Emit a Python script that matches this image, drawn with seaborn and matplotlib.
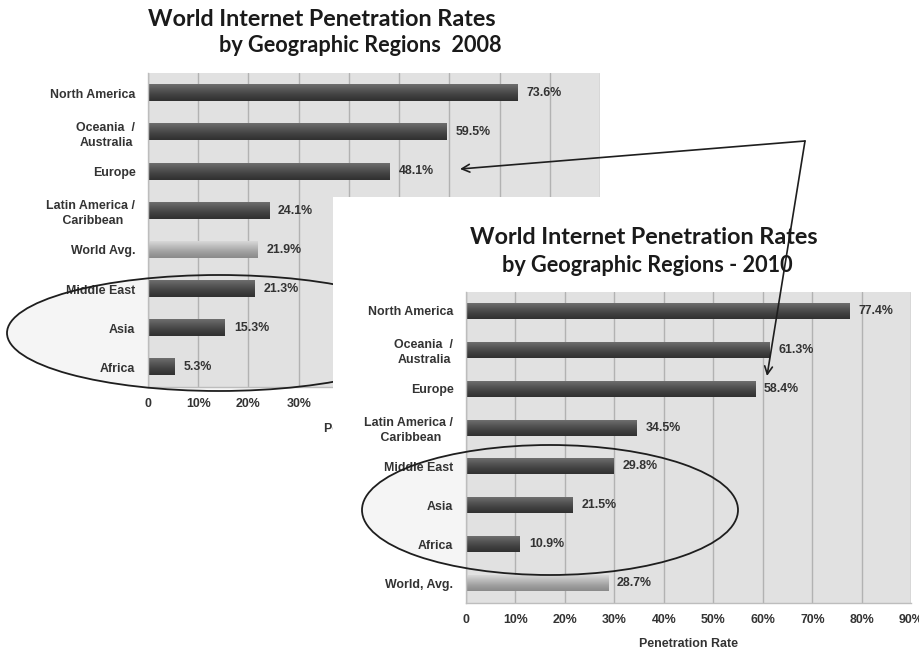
import numpy as np
import pandas as pd
import matplotlib
matplotlib.use("Agg")
import matplotlib.pyplot as plt
from matplotlib import font_manager
from matplotlib.patches import Ellipse, Rectangle
from matplotlib.colors import LinearSegmentedColormap
import seaborn as sns

# ---- data -------------------------------------------------------------
regions_2008 = ["North America", "Oceania  /\nAustralia", "Europe",
                "Latin America /\n Caribbean", "World Avg.", "Middle East",
                "Asia", "Africa"]
rates_2008 = [73.6, 59.5, 48.1, 24.1, 21.9, 21.3, 15.3, 5.3]

regions_2010 = ["North America", "Oceania  /\nAustralia", "Europe",
                "Latin America /\n Caribbean", "Middle East", "Asia",
                "Africa", "World, Avg."]
rates_2010 = [77.4, 61.3, 58.4, 34.5, 29.8, 21.5, 10.9, 28.7]

x_ticks = [0, 10, 20, 30, 40, 50, 60, 70, 80, 90]
x_tick_labels = ["0", "10%", "20%", "30%", "40%", "50%", "60%", "70%", "80%", "90%"]

title_2008 = ("World Internet Penetration Rates", "by Geographic Regions  2008")
title_2010 = ("World Internet Penetration Rates", "by Geographic Regions - 2010")

# ---- style ------------------------------------------------------------
sns.set_theme(style="white")
installed = {f.name for f in font_manager.fontManager.ttflist}
label_font = "Liberation Sans Narrow" if "Liberation Sans Narrow" in installed else "Liberation Sans"
title_font = "Lato" if "Lato" in installed else "DejaVu Sans"
plt.rcParams["font.family"] = [label_font, "DejaVu Sans"]

W, H = 920, 651
DPI = 100
LABEL_SIZE = 8.9
TEXT_COLOR = "#333333"
fig = plt.figure(figsize=(W / DPI, H / DPI), dpi=DPI)
fig.patch.set_facecolor("white")


def px_axes(left, top, right, bottom, **kw):
    return fig.add_axes([left / W, 1 - bottom / H, (right - left) / W, (bottom - top) / H], **kw)


dark_cmap = LinearSegmentedColormap.from_list(
    "dark", ["#6e6e6e", "#555555", "#404040", "#303030"])
light_cmap = LinearSegmentedColormap.from_list(
    "light", ["#d8d8d8", "#bababa", "#9e9e9e", "#8a8a8a"])


def draw_chart(ax, cats, vals, highlight):
    df = pd.DataFrame({"region": cats, "rate": vals})
    sns.barplot(data=df, x="rate", y="region", ax=ax, color="#444444",
                width=0.41, orient="h", saturation=1)
    ax.set_xlim(0, 90)
    ax.set_facecolor("#e1e1e1")
    ax.set_xticks(x_ticks)
    ax.set_xticklabels(x_tick_labels)
    ax.grid(axis="x", color="#b2b2b2", linewidth=1.0)
    ax.set_axisbelow(True)
    for s in ["top", "right"]:
        ax.spines[s].set_visible(False)
    for s in ["left", "bottom"]:
        ax.spines[s].set_color("#bdbdbd")
        ax.spines[s].set_linewidth(1.0)
    ax.tick_params(axis="y", length=0, pad=9, labelsize=LABEL_SIZE, labelcolor=TEXT_COLOR)
    ax.tick_params(axis="x", length=0, pad=8, labelsize=LABEL_SIZE, labelcolor=TEXT_COLOR)
    # boundary tick marks between categories
    ax.set_yticks(np.arange(len(cats) + 1) - 0.5, minor=True)
    ax.tick_params(axis="y", which="minor", length=4, color="#9a9a9a", width=0.8)
    for t in ax.get_yticklabels():
        t.set_fontweight("bold")
        t.set_multialignment("center")
        t.set_linespacing(1.35)
    for t in ax.get_xticklabels():
        t.set_fontweight("bold")
    ax.set_ylabel("")
    ax.set_xlabel("Penetration Rate", fontsize=LABEL_SIZE, fontweight="bold",
                  color=TEXT_COLOR, labelpad=9)

    # shaded bars
    for patch, cat, val in zip(ax.patches, cats, vals):
        x0, y0 = patch.get_x(), patch.get_y()
        w, h = patch.get_width(), patch.get_height()
        cmap = light_cmap if cat == highlight else dark_cmap
        grad = np.linspace(0, 1, 64).reshape(-1, 1)
        ax.imshow(grad, cmap=cmap, aspect="auto",
                  extent=(x0, x0 + w, y0 + h, y0), zorder=2.5,
                  interpolation="bilinear")
        patch.set_edgecolor("none")
        ax.text(val + 1.8, y0 + h / 2, f"{val}%", va="center", ha="left",
                fontsize=LABEL_SIZE, fontweight="bold", color=TEXT_COLOR, zorder=3)
    ax.set_ylim(len(cats) - 0.5, -0.5)


# ---- 2008 chart ---------------------------------------------------------
ax1 = px_axes(148, 73.5, 600, 387)
ax1.set_zorder(1)
draw_chart(ax1, regions_2008, rates_2008, "World Avg.")


# underlay / overlay layers in pixel space
def layer(z):
    a = fig.add_axes([0, 0, 1, 1])
    a.set_xlim(0, W)
    a.set_ylim(H, 0)
    a.axis("off")
    a.patch.set_alpha(0)
    a.set_zorder(z)
    return a


lay_fill1 = layer(0.5)
lay_edge1 = layer(1.5)
lay_fill1.add_patch(Ellipse((219, 333), 424, 116, facecolor="#f5f5f5", edgecolor="none"))
lay_edge1.add_patch(Ellipse((219, 333), 424, 116, facecolor="none",
                            edgecolor="#1e1e1e", linewidth=1.3))

# white panel carrying the 2010 chart
panel = layer(2)
panel.add_patch(Rectangle((333, 197), W - 333, H - 197, facecolor="white",
                          edgecolor="none"))
panel.add_patch(Ellipse((550, 510), 376, 130, facecolor="#f5f5f5", edgecolor="none"))

# ---- 2010 chart ---------------------------------------------------------
ax2 = px_axes(466, 291.5, 911.5, 602.5)
ax2.set_zorder(3)
draw_chart(ax2, regions_2010, rates_2010, "World, Avg.")

top = layer(4)
top.add_patch(Ellipse((550, 510), 376, 130, facecolor="none",
                      edgecolor="#1e1e1e", linewidth=1.3))
vertex = (805, 141)
arrow_kw = dict(arrowstyle="->", color="#1e1e1e", lw=1.2, mutation_scale=14,
                shrinkA=0, shrinkB=0)
top.annotate("", xy=(460, 169), xytext=vertex, arrowprops=arrow_kw)
top.annotate("", xy=(767, 376), xytext=vertex, arrowprops=arrow_kw)

# ---- titles -------------------------------------------------------------
tk = dict(ha="center", va="center", fontweight="bold",
          color="#1a1a1a", family=[title_font, "DejaVu Sans"])
fig.text(322 / W, 1 - 19 / H, title_2008[0], fontsize=16.8, **tk)
fig.text(360 / W, 1 - 45 / H, title_2008[1], fontsize=15.6, **tk)
fig.text(644 / W, 1 - 238 / H, title_2010[0], fontsize=16.8, zorder=5, **tk)
fig.text(647 / W, 1 - 265 / H, title_2010[1], fontsize=15.6, zorder=5, **tk)

fig.savefig("out.png", dpi=DPI, facecolor="white")
